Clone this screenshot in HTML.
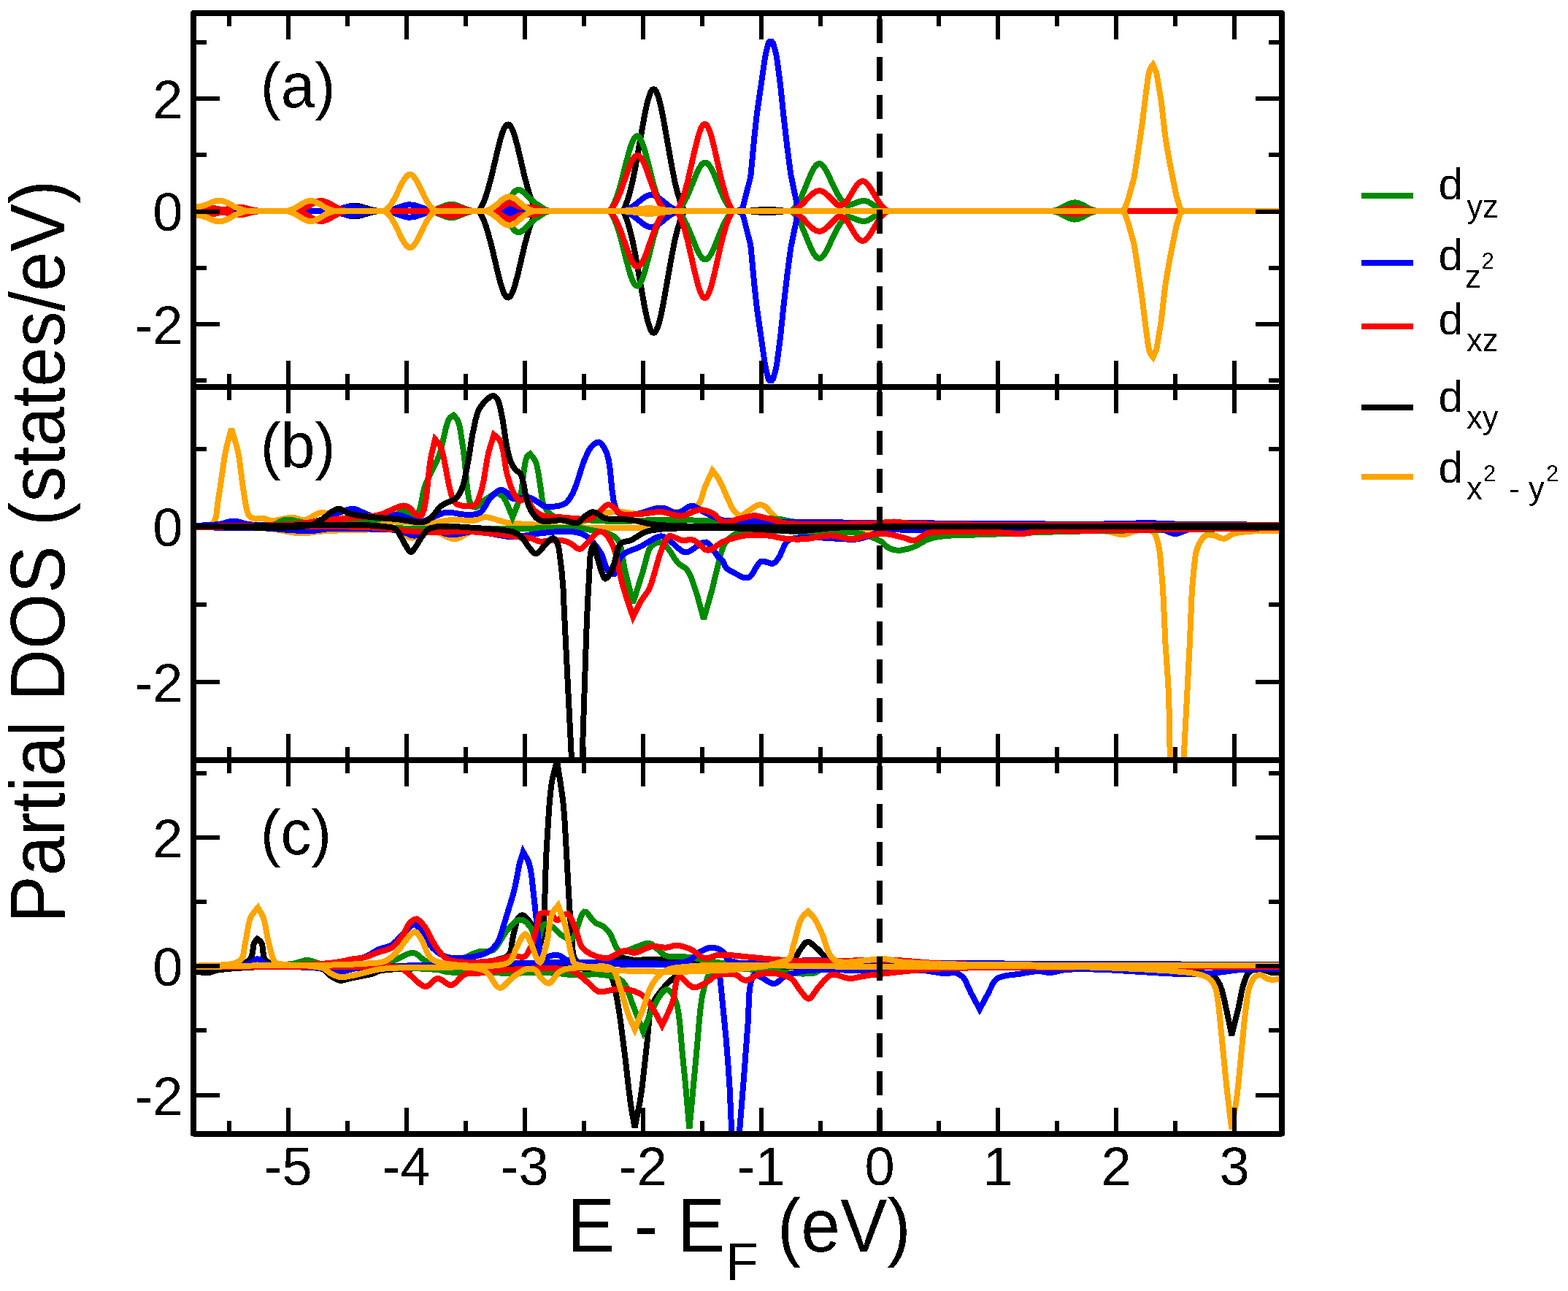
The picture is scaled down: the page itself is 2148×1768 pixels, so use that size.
<!DOCTYPE html><html><head><meta charset="utf-8"><title>Partial DOS</title><style>html,body{margin:0;padding:0;background:#fff;overflow:hidden}svg{display:block}text{font-family:"Liberation Sans",sans-serif;fill:#000}</style></head><body>
<svg width="2148" height="1768" viewBox="0 0 2148 1768">
<rect width="2148" height="1768" fill="#fff"/>
<defs>
<clipPath id="ca"><rect x="265" y="18" width="1491" height="511.5"/></clipPath>
<clipPath id="cb"><rect x="265" y="529.5" width="1491" height="511.5"/></clipPath>
<clipPath id="cc"><rect x="265" y="1041" width="1491" height="511.5"/></clipPath>
<filter id="bin" x="0" y="0" width="100%" height="100%" filterUnits="userSpaceOnUse" color-interpolation-filters="sRGB"><feComponentTransfer><feFuncA type="discrete" tableValues="0 1"/></feComponentTransfer></filter>
</defs>
<g fill="none" stroke-width="8" stroke-linejoin="miter" stroke-miterlimit="3" stroke-linecap="butt" shape-rendering="crispEdges">
<path d="M265 289 L453 289 L462.7 286.9 L477.3 282.7 L482.2 281.8 L485.4 281.7 L488.7 281.8 L493.5 282.7 L508.1 286.9 L517.8 289 L655.6 289 L657.2 287 L658.8 284.4 L662.1 278 L665.3 269.7 L668.5 259.5 L673.4 241.1 L683.1 199.7 L686.4 187.7 L688 182.6 L689.6 178.3 L691.2 174.9 L692.9 172.4 L694.5 170.9 L696.1 170.5 L697.7 171.1 L699.3 172.8 L701 175.5 L702.6 179.1 L704.2 183.6 L705.8 188.8 L709.1 201 L718.8 242.5 L723.7 260.6 L726.9 270.6 L730.1 278.7 L733.4 285 L735 287.5 L736.6 289 L853.3 289 L856.5 282.5 L859.8 273.9 L863 263 L866.3 249.6 L871.1 225.4 L882.5 160.8 L885.7 145 L887.3 138.4 L889 132.7 L890.6 128.2 L892.2 124.8 L893.8 122.8 L895.4 122.1 L897.1 122.8 L898.7 124.8 L900.3 128.2 L901.9 132.7 L903.5 138.4 L905.2 145 L908.4 160.8 L919.8 225.4 L924.6 249.6 L927.9 263 L931.1 273.9 L934.3 282.5 L937.6 289 L1025.1 289 L1026.7 288.7 L1042.9 287.1 L1051 286.7 L1059.1 287.1 L1075.3 288.7 L1077 289 L1756 289" stroke="#000000" clip-path="url(#ca)"/>
<path d="M265 289 L453 289 L462.7 291.1 L477.3 295.3 L482.2 296.2 L485.4 296.3 L488.7 296.2 L493.5 295.3 L508.1 291.1 L517.8 289 L655.6 289 L657.2 291 L658.8 293.6 L662.1 300 L665.3 308.3 L668.5 318.5 L673.4 336.9 L683.1 378.3 L686.4 390.3 L688 395.4 L689.6 399.7 L691.2 403.1 L692.9 405.6 L694.5 407.1 L696.1 407.5 L697.7 406.9 L699.3 405.2 L701 402.5 L702.6 398.9 L704.2 394.4 L705.8 389.2 L709.1 377 L718.8 335.5 L723.7 317.4 L726.9 307.4 L730.1 299.3 L733.4 293 L735 290.5 L736.6 289 L853.3 289 L856.5 295.5 L859.8 304.1 L863 315 L866.3 328.4 L871.1 352.6 L882.5 417.2 L885.7 433 L887.3 439.6 L889 445.3 L890.6 449.8 L892.2 453.2 L893.8 455.2 L895.4 455.9 L897.1 455.2 L898.7 453.2 L900.3 449.8 L901.9 445.3 L903.5 439.6 L905.2 433 L908.4 417.2 L919.8 352.6 L924.6 328.4 L927.9 315 L931.1 304.1 L934.3 295.5 L937.6 289 L1025.1 289 L1026.7 289.3 L1042.9 290.9 L1051 291.3 L1059.1 290.9 L1075.3 289.3 L1077 289 L1756 289" stroke="#000000" clip-path="url(#ca)"/>
<path d="M265 289 L589.1 289 L597.2 286.7 L611.8 280.8 L615.1 280 L618.3 279.7 L621.5 280 L624.8 280.8 L639.4 286.7 L647.5 289 L683.1 289 L684.8 288.6 L686.4 287.5 L689.6 284.7 L691.2 282.8 L694.5 278.2 L701 267.6 L704.2 263.2 L705.8 261.7 L707.4 260.6 L709.1 259.9 L710.7 259.7 L712.3 260 L713.9 260.8 L715.5 261.9 L725.3 271.1 L733.4 278.3 L746.3 286.5 L749.6 288 L752.8 289 L833.9 289 L835.5 288.3 L838.7 283.5 L842 277 L843.6 273 L846.8 263.8 L850.1 252.9 L859.8 214.9 L863 203.4 L864.7 198.5 L866.3 194.2 L867.9 190.8 L869.5 188.3 L871.1 186.8 L872.8 186.3 L874.4 186.8 L876 188.3 L877.6 190.8 L879.2 194.2 L880.9 198.5 L882.5 203.4 L885.7 214.9 L895.4 252.9 L898.7 263.8 L901.9 273 L903.5 277 L906.8 283.5 L910 288.3 L911.7 289 L926.2 289 L927.9 288.6 L931.1 285.5 L932.7 283.6 L936 279 L940.8 270 L944.1 262.7 L953.8 238.6 L957 231.7 L960.3 226.4 L961.9 224.5 L963.5 223.3 L965.1 222.6 L966.8 222.6 L968.4 223.3 L970 224.5 L971.6 226.4 L973.2 228.8 L974.9 231.7 L978.1 238.6 L987.8 262.7 L991.1 270 L994.3 276.3 L997.6 281.5 L1000.8 285.5 L1004 288.6 L1005.7 289 L1083.4 289 L1085.1 287.9 L1088.3 284.7 L1091.6 280.5 L1094.8 275.2 L1099.7 265.2 L1109.4 241.6 L1114.2 231.5 L1117.5 226.9 L1119.1 225.4 L1120.7 224.4 L1122.3 224.1 L1124 224.4 L1125.6 225.4 L1127.2 226.9 L1130.4 231.4 L1133.7 237.3 L1141.8 254.8 L1146.7 264.4 L1149.9 269.9 L1153.1 274.6 L1154.8 276.6 L1158 279.6 L1159.6 280.7 L1161.2 281.4 L1167.7 279.6 L1175.8 276.5 L1179.1 275.5 L1182.3 275.1 L1185.6 275.2 L1188.8 276.1 L1192 277.8 L1200.1 283.4 L1205 286.2 L1209.9 288.2 L1213.1 289 L1441.6 289 L1446.5 287.9 L1451.3 286.1 L1462.7 280.2 L1465.9 278.7 L1469.2 277.8 L1472.4 277.4 L1475.7 277.8 L1478.9 278.7 L1482.1 280.2 L1493.5 286.1 L1498.3 287.9 L1503.2 289 L1756 289" stroke="#008b00" clip-path="url(#ca)"/>
<path d="M265 289 L589.1 289 L597.2 291.3 L611.8 297.2 L615.1 298 L618.3 298.3 L621.5 298 L624.8 297.2 L639.4 291.3 L647.5 289 L683.1 289 L684.8 289.4 L686.4 290.5 L689.6 293.3 L691.2 295.2 L694.5 299.8 L701 310.4 L704.2 314.8 L705.8 316.3 L707.4 317.4 L709.1 318.1 L710.7 318.3 L712.3 318 L713.9 317.2 L715.5 316.1 L725.3 306.9 L733.4 299.7 L746.3 291.5 L749.6 290 L752.8 289 L833.9 289 L835.5 289.7 L838.7 294.5 L842 301 L843.6 305 L846.8 314.2 L850.1 325.1 L859.8 363.1 L863 374.6 L864.7 379.5 L866.3 383.8 L867.9 387.2 L869.5 389.7 L871.1 391.2 L872.8 391.7 L874.4 391.2 L876 389.7 L877.6 387.2 L879.2 383.8 L880.9 379.5 L882.5 374.6 L885.7 363.1 L895.4 325.1 L898.7 314.2 L901.9 305 L903.5 301 L906.8 294.5 L910 289.7 L911.7 289 L926.2 289 L927.9 289.4 L931.1 292.5 L932.7 294.4 L936 299 L940.8 308 L944.1 315.3 L953.8 339.4 L957 346.3 L960.3 351.6 L961.9 353.5 L963.5 354.7 L965.1 355.4 L966.8 355.4 L968.4 354.7 L970 353.5 L971.6 351.6 L973.2 349.2 L974.9 346.3 L978.1 339.4 L987.8 315.3 L991.1 308 L994.3 301.7 L997.6 296.5 L1000.8 292.5 L1004 289.4 L1005.7 289 L1083.4 289 L1085.1 290.1 L1088.3 293.3 L1091.6 297.5 L1094.8 302.8 L1099.7 312.8 L1109.4 336.4 L1114.2 346.5 L1117.5 351.1 L1119.1 352.6 L1120.7 353.6 L1122.3 353.9 L1124 353.6 L1125.6 352.6 L1127.2 351.1 L1130.4 346.6 L1133.7 340.7 L1141.8 323.2 L1146.7 313.6 L1149.9 308.1 L1153.1 303.4 L1154.8 301.4 L1158 298.4 L1159.6 297.3 L1161.2 296.6 L1167.7 298.4 L1175.8 301.5 L1179.1 302.5 L1182.3 302.9 L1185.6 302.8 L1188.8 301.9 L1192 300.2 L1200.1 294.6 L1205 291.8 L1209.9 289.8 L1213.1 289 L1441.6 289 L1446.5 290.1 L1451.3 291.9 L1462.7 297.8 L1465.9 299.3 L1469.2 300.2 L1472.4 300.6 L1475.7 300.2 L1478.9 299.3 L1482.1 297.8 L1493.5 291.9 L1498.3 290.1 L1503.2 289 L1756 289" stroke="#008b00" clip-path="url(#ca)"/>
<path d="M265 289 L449.8 289 L459.5 287.4 L474.1 284 L478.9 283.3 L482.2 283.2 L485.4 283.3 L490.3 284 L504.9 287.4 L514.6 289 L527.5 289 L537.3 286.9 L553.5 281.5 L558.3 280.5 L561.6 280.4 L564.8 280.6 L569.7 281.6 L584.3 286.6 L594 289 L686.4 289 L692.9 287.7 L702.6 285.2 L707.4 284.8 L712.3 285.2 L722 287.7 L728.5 289 L853.3 289 L856.5 288.1 L859.8 286.8 L864.7 284.2 L869.5 280.8 L880.9 271.6 L884.1 269.4 L887.3 267.9 L889 267.4 L892.2 267 L895.4 267.4 L897.1 268 L900.3 269.6 L905.2 273 L914.9 281 L919.8 284.4 L923 286.2 L926.2 287.6 L931.1 289 L1010.5 289 L1017 285.4 L1018.6 280.6 L1028.3 241.9 L1033.2 189.7 L1036.4 159.8 L1038.1 147.4 L1047.8 80.2 L1049.4 71.8 L1052.7 58.6 L1054.3 57.2 L1057.5 57.2 L1059.1 59 L1062.4 71 L1064 78.2 L1068.9 115.2 L1073.7 161.1 L1078.6 203.4 L1083.4 239.5 L1091.6 279 L1093.2 285.4 L1098 289 L1756 289" stroke="#0000ff" clip-path="url(#ca)"/>
<path d="M265 289 L449.8 289 L459.5 290.6 L474.1 294 L478.9 294.7 L482.2 294.8 L485.4 294.7 L490.3 294 L504.9 290.6 L514.6 289 L527.5 289 L537.3 291.1 L553.5 296.5 L558.3 297.5 L561.6 297.6 L564.8 297.4 L569.7 296.4 L584.3 291.4 L594 289 L686.4 289 L692.9 290.3 L702.6 292.8 L707.4 293.2 L712.3 292.8 L722 290.3 L728.5 289 L853.3 289 L856.5 289.9 L859.8 291.2 L864.7 293.8 L869.5 297.2 L880.9 306.4 L884.1 308.6 L887.3 310.1 L889 310.6 L892.2 311 L895.4 310.6 L897.1 310 L900.3 308.4 L905.2 305 L914.9 297 L919.8 293.6 L923 291.8 L926.2 290.4 L931.1 289 L1010.5 289 L1017 292.6 L1018.6 297.4 L1028.3 336.1 L1033.2 388.3 L1036.4 418.2 L1038.1 430.6 L1047.8 497.8 L1049.4 506.2 L1052.7 519.4 L1054.3 520.8 L1057.5 520.8 L1059.1 519 L1062.4 507 L1064 499.8 L1068.9 462.8 L1073.7 416.9 L1078.6 374.6 L1083.4 338.5 L1091.6 299 L1093.2 292.6 L1098 289 L1756 289" stroke="#0000ff" clip-path="url(#ca)"/>
<path d="M265 289 L266.6 289 L273.1 287.6 L281.2 285.3 L286.1 284.4 L290.9 284.6 L300.6 286.6 L305.5 286.9 L310.4 286.5 L321.7 283.9 L326.6 283.6 L333.1 284.2 L347.6 287.7 L355.8 289 L406 289 L410.9 287.7 L415.7 285.8 L420.6 283.4 L428.7 278.7 L433.5 276.4 L436.8 275.4 L440 275.1 L443.3 275.4 L446.5 276.4 L451.4 278.7 L459.5 283.4 L464.3 285.8 L469.2 287.7 L474.1 289 L589.1 289 L597.2 287.3 L611.8 282.8 L615.1 282.3 L618.3 282 L621.5 282.3 L624.8 282.8 L639.4 287.3 L647.5 289 L676.7 289 L683.1 286.1 L692.9 279.8 L696.1 278.5 L697.7 278.2 L699.3 278.2 L702.6 279.1 L710.7 282.8 L713.9 283.9 L718.8 284.4 L722 284.2 L725.3 283.7 L730.1 283.9 L733.4 284.6 L741.5 287.3 L748 289 L833.9 289 L835.5 288.2 L838.7 284.6 L842 279.9 L843.6 277 L846.8 270.3 L850.1 262.3 L859.8 234.7 L864.7 222.6 L867.9 216.8 L869.5 214.8 L871.1 213.5 L872.8 212.9 L874.4 213.1 L876 214 L877.6 215.5 L879.2 217.8 L880.9 220.7 L882.5 224 L885.7 232.1 L893.8 255.3 L898.7 268 L903.5 278.2 L906.8 283.3 L911.7 289 L926.2 289 L927.9 287.6 L931.1 281.8 L934.3 274.3 L936 269.7 L939.2 259.1 L942.4 246.6 L952.2 203.5 L957 184.7 L958.7 179.8 L960.3 175.8 L961.9 172.8 L963.5 170.9 L965.1 170.1 L966.8 170.4 L968.4 171.9 L970 174.5 L971.6 178.1 L973.2 182.6 L974.9 188 L978.1 200.7 L987.8 243.9 L992.7 262.5 L995.9 272.5 L997.6 276.8 L1000.8 283.7 L1004 289 L1083.4 289 L1088.3 287.2 L1091.6 285.4 L1094.8 283.1 L1099.7 278.8 L1109.4 268.7 L1114.2 264.4 L1117.5 262.4 L1119.1 261.7 L1122.3 261.2 L1125.6 261.7 L1127.2 262.4 L1130.4 264.4 L1135.3 268.7 L1146.7 280.3 L1148.3 281 L1149.9 281.2 L1151.5 281.2 L1153.1 280.8 L1154.8 280.1 L1156.4 279 L1159.6 276 L1161.2 274 L1171 257.5 L1174.2 252.9 L1175.8 251.1 L1177.4 249.7 L1179.1 248.7 L1180.7 248.1 L1182.3 248.1 L1183.9 248.5 L1185.6 249.4 L1188.8 252.5 L1192 257 L1201.8 273.4 L1206.6 280.5 L1211.5 285.6 L1216.3 289 L1444.9 289 L1465.9 285.6 L1472.4 285.1 L1478.9 285.6 L1500 289 L1756 289" stroke="#ff0000" clip-path="url(#ca)"/>
<path d="M265 289 L266.6 289 L273.1 290.4 L281.2 292.7 L286.1 293.6 L290.9 293.4 L300.6 291.4 L305.5 291.1 L310.4 291.5 L321.7 294.1 L326.6 294.4 L333.1 293.8 L347.6 290.3 L355.8 289 L406 289 L410.9 290.3 L415.7 292.2 L420.6 294.6 L428.7 299.3 L433.5 301.6 L436.8 302.6 L440 302.9 L443.3 302.6 L446.5 301.6 L451.4 299.3 L459.5 294.6 L464.3 292.2 L469.2 290.3 L474.1 289 L589.1 289 L597.2 290.7 L611.8 295.2 L615.1 295.7 L618.3 296 L621.5 295.7 L624.8 295.2 L639.4 290.7 L647.5 289 L676.7 289 L683.1 291.9 L692.9 298.2 L696.1 299.5 L697.7 299.8 L699.3 299.8 L702.6 298.9 L710.7 295.2 L713.9 294.1 L718.8 293.6 L722 293.8 L725.3 294.3 L730.1 294.1 L733.4 293.4 L741.5 290.7 L748 289 L833.9 289 L835.5 289.8 L838.7 293.4 L842 298.1 L843.6 301 L846.8 307.7 L850.1 315.7 L859.8 343.3 L864.7 355.4 L867.9 361.2 L869.5 363.2 L871.1 364.5 L872.8 365.1 L874.4 364.9 L876 364 L877.6 362.5 L879.2 360.2 L880.9 357.3 L882.5 354 L885.7 345.9 L893.8 322.7 L898.7 310 L903.5 299.8 L906.8 294.7 L911.7 289 L926.2 289 L927.9 290.4 L931.1 296.2 L934.3 303.7 L936 308.3 L939.2 318.9 L942.4 331.4 L952.2 374.5 L957 393.3 L958.7 398.2 L960.3 402.2 L961.9 405.2 L963.5 407.1 L965.1 407.9 L966.8 407.6 L968.4 406.1 L970 403.5 L971.6 399.9 L973.2 395.4 L974.9 390 L978.1 377.3 L987.8 334.1 L992.7 315.5 L995.9 305.5 L997.6 301.2 L1000.8 294.3 L1004 289 L1083.4 289 L1088.3 290.8 L1091.6 292.6 L1094.8 294.9 L1099.7 299.2 L1109.4 309.3 L1114.2 313.6 L1117.5 315.6 L1119.1 316.3 L1122.3 316.8 L1125.6 316.3 L1127.2 315.6 L1130.4 313.6 L1135.3 309.3 L1146.7 297.7 L1148.3 297 L1149.9 296.8 L1151.5 296.8 L1153.1 297.2 L1154.8 297.9 L1156.4 299 L1159.6 302 L1161.2 304 L1171 320.5 L1174.2 325.1 L1175.8 326.9 L1177.4 328.3 L1179.1 329.3 L1180.7 329.9 L1182.3 329.9 L1183.9 329.5 L1185.6 328.6 L1188.8 325.5 L1192 321 L1201.8 304.6 L1206.6 297.5 L1211.5 292.4 L1216.3 289 L1444.9 289 L1465.9 292.4 L1472.4 292.9 L1478.9 292.4 L1500 289 L1756 289" stroke="#ff0000" clip-path="url(#ca)"/>
<path d="M265 283.2 L271.5 283.1 L276.3 282.4 L282.8 280.3 L290.9 276.8 L294.2 275.6 L297.4 274.9 L300.6 274.7 L303.9 275.1 L308.8 276.5 L312 278 L321.7 283.2 L326.6 285.5 L331.4 287.3 L337.9 289 L393 289 L397.9 287.6 L402.8 285.6 L407.6 282.9 L415.7 277.9 L419 276.3 L422.2 275.2 L425.4 274.9 L428.7 275.2 L431.9 276.3 L435.2 277.9 L443.3 282.9 L448.1 285.6 L453 287.6 L457.9 289 L525.9 289 L527.5 288.5 L530.8 285.9 L534 282.2 L535.7 280 L540.5 271.9 L550.2 251.8 L553.5 245.9 L556.7 241.6 L558.3 240.1 L560 239.2 L561.6 238.9 L563.2 239.2 L564.8 240.1 L566.4 241.6 L569.7 245.9 L572.9 251.8 L582.7 271.9 L587.5 280 L589.1 282.2 L592.4 285.9 L595.6 288.5 L597.2 289 L665.3 289 L670.2 287.1 L675 284.3 L679.9 280.6 L688 273.6 L691.2 271.3 L694.5 269.8 L697.7 269.3 L701 269.8 L704.2 271.3 L707.4 273.6 L715.5 280.6 L720.4 284.3 L725.3 287.1 L730.1 289 L854.9 289 L856.5 288.6 L864.7 287.8 L879.2 285.8 L889 285.1 L898.7 285.8 L913.3 287.8 L921.4 288.6 L923 289 L1535.6 289 L1540.5 286.7 L1545.3 273.5 L1553.5 243.8 L1558.3 213.2 L1563.2 179.8 L1564.8 168.2 L1569.7 128.3 L1572.9 104.8 L1574.5 97.3 L1577.8 90.8 L1579.4 88.8 L1584.2 99.2 L1590.7 138.2 L1595.6 181.2 L1597.2 192.8 L1602.1 221.2 L1611.8 269.6 L1616.7 285 L1618.3 287.7 L1623.1 289 L1756 289" stroke="#ffa500" clip-path="url(#ca)"/>
<path d="M265 294.8 L271.5 294.9 L276.3 295.6 L282.8 297.7 L290.9 301.2 L294.2 302.4 L297.4 303.1 L300.6 303.3 L303.9 302.9 L308.8 301.5 L312 300 L321.7 294.8 L326.6 292.5 L331.4 290.7 L337.9 289 L393 289 L397.9 290.4 L402.8 292.4 L407.6 295.1 L415.7 300.1 L419 301.7 L422.2 302.8 L425.4 303.1 L428.7 302.8 L431.9 301.7 L435.2 300.1 L443.3 295.1 L448.1 292.4 L453 290.4 L457.9 289 L525.9 289 L527.5 289.5 L530.8 292.1 L534 295.8 L535.7 298 L540.5 306.1 L550.2 326.2 L553.5 332.1 L556.7 336.4 L558.3 337.9 L560 338.8 L561.6 339.1 L563.2 338.8 L564.8 337.9 L566.4 336.4 L569.7 332.1 L572.9 326.2 L582.7 306.1 L587.5 298 L589.1 295.8 L592.4 292.1 L595.6 289.5 L597.2 289 L665.3 289 L670.2 290.9 L675 293.7 L679.9 297.4 L688 304.4 L691.2 306.7 L694.5 308.2 L697.7 308.7 L701 308.2 L704.2 306.7 L707.4 304.4 L715.5 297.4 L720.4 293.7 L725.3 290.9 L730.1 289 L854.9 289 L856.5 289.4 L864.7 290.2 L879.2 292.2 L889 292.9 L898.7 292.2 L913.3 290.2 L921.4 289.4 L923 289 L1535.6 289 L1540.5 291.3 L1545.3 304.5 L1553.5 334.2 L1558.3 364.8 L1563.2 398.2 L1564.8 409.8 L1569.7 449.7 L1572.9 473.2 L1574.5 480.7 L1577.8 487.2 L1579.4 489.2 L1584.2 478.8 L1590.7 439.8 L1595.6 396.8 L1597.2 385.2 L1602.1 356.8 L1611.8 308.4 L1616.7 293 L1618.3 290.3 L1623.1 289 L1756 289" stroke="#ffa500" clip-path="url(#ca)"/>
<path d="M265 721 L269.7 720.5 L279.5 720.3 L284.1 719.8 L288.3 718.7 L291.6 716.6 L294.2 712.9 L295.8 708.1 L296.8 702.5 L298.1 689.8 L299 683.3 L300.7 673.6 L307.2 628.7 L308.9 619 L311.5 607.5 L316.9 587 L323.3 607.7 L326.1 619 L327.6 627 L332.2 662.8 L336.5 690.8 L337.7 696.7 L339.1 701.7 L340.9 705.5 L343.1 707.9 L345.6 709.5 L348.3 710.4 L350.8 710.6 L356.5 709.9 L359.4 709.8 L362 710.2 L369.9 712.5 L373 712.9 L377.2 712.7 L397 708.8 L401.3 708.6 L404 709 L411.1 711.6 L413.5 712.2 L416.1 712.3 L419.9 711.3 L424 709.4 L432.6 704.5 L436.8 702.6 L440.8 701.8 L443.9 702.1 L446.9 702.9 L455.8 707 L459.3 708 L464.9 709 L477.6 710.4 L529.1 713.9 L562.2 715.5 L577.3 715.9 L589.9 715.7 L595.8 715.3 L615 712.4 L619.8 712 L624.9 712 L640.6 712.9 L645.4 713 L649.8 712.7 L652.5 712.1 L659.5 709.3 L662 708.5 L664.7 708.2 L669 708.6 L673.7 709.7 L689.3 714.5 L694.7 715.7 L701.1 716.6 L714.8 717.6 L736 718.7 L759.1 721.2 L766.9 721.7 L774.6 721.8 L782 721 L789.2 719.1 L796.2 716.1 L810 709.1 L816.6 706 L823 703.8 L832.5 702 L841.6 701.2 L850.6 701.1 L855.3 701.4 L869.4 703.6 L873.9 704 L878.3 703.8 L882.1 702.9 L885.8 701.3 L892.9 697.7 L896.6 696.3 L900.4 695.5 L904.8 695.7 L909.4 696.8 L918.8 699.8 L923.5 700.9 L928.1 701.1 L932.9 700.6 L938 699.6 L943.1 698.3 L947.9 696.5 L952.2 694.2 L955.8 691.4 L958.4 688.1 L960.4 684 L961.9 679.5 L964.5 670.3 L966 666 L976 644.4 L982.5 652.8 L985.3 657.3 L990 667 L996.1 681.3 L1002.9 695.5 L1004.4 698 L1008 702.3 L1010.2 704.3 L1012.4 705.7 L1014.7 706.3 L1017 705.7 L1024.5 700.1 L1034.6 693.5 L1037 692.2 L1039.3 691.5 L1043.1 691.4 L1046.7 692.7 L1048.5 693.9 L1050.4 695.7 L1056 702 L1061.7 707.8 L1063.7 709.6 L1066.4 711.2 L1070.1 712.8 L1074.2 714.1 L1079 715.2 L1084.7 716.2 L1100 718 L1161.4 720.9 L1257.3 722 L1376.2 721.8 L1637.1 720.2 L1756 720" stroke="#ffa500" clip-path="url(#cb)"/>
<path d="M265 721.5 L320.1 721.8 L357 723 L370 724 L377 724.9 L398.1 728.9 L404.9 729.9 L411.4 730.4 L416.5 730.3 L421.5 729.9 L435.5 728 L450.2 726.9 L467.4 726.3 L504 725.5 L521.9 724.8 L530 725 L539.3 726 L545.1 727.1 L548 728 L550.8 729.3 L558.7 734.8 L561.5 736.1 L564.4 736.7 L568.3 736 L572.4 734.1 L581 728.9 L585.5 726.9 L590 726 L595.3 726.9 L600.7 729.1 L612 735.1 L617.5 737.4 L622.8 738.2 L627.4 737.4 L631.7 735.5 L640.3 730.2 L644.9 727.8 L650 726 L656.9 724.8 L663.9 724.1 L671.3 724 L689 724.1 L778.6 723.1 L942.8 722.9 L1177.1 723.7 L1367.4 725.1 L1442.2 725.8 L1509.2 727 L1516.6 727.7 L1520.5 728.4 L1531.7 731.3 L1535.3 732 L1538.8 732.1 L1541.9 731.6 L1544.8 730.7 L1553.5 727.3 L1556.6 726.6 L1564.4 725.8 L1568.5 725.7 L1572.4 725.9 L1576 726.5 L1578.8 727.7 L1580.8 729.3 L1582.2 731.4 L1584.4 736.7 L1587 746.4 L1588.4 754.3 L1589.4 763.2 L1593.1 806.7 L1596.5 881.9 L1599.6 925.8 L1600.9 948.4 L1601.7 976.7 L1602.5 1023.1 L1604.1 1072.1 L1612 1260 L1620.1 1070.5 L1622.2 1027.1 L1629.8 881.9 L1632.3 820.4 L1633.1 806.1 L1635.8 776.3 L1637.6 761.2 L1639 754.6 L1640.9 748.8 L1642.4 745.4 L1645.9 739.2 L1647.8 736.7 L1649.9 734.7 L1652 733.2 L1654.6 732.4 L1657.4 732.3 L1663.1 733.2 L1665.7 734 L1671.1 736.5 L1673.8 737.4 L1676.4 737.7 L1679 737 L1681.5 735.7 L1686.8 732.3 L1689.7 731 L1692.9 730.1 L1699.9 728.9 L1718.4 727.3 L1756 726.6" stroke="#ffa500" clip-path="url(#cb)"/>
<path d="M265 721 L283.4 721.1 L322.5 721.9 L341 722 L357.2 721.5 L370 720 L374.6 718.8 L378.3 717.2 L384.7 713.8 L387.9 712.5 L391.5 711.7 L395.8 711.6 L400.1 712.2 L414.3 715.4 L420 716 L431.3 716.5 L444.7 716.6 L459.2 716.4 L473.9 715.9 L487.8 715.1 L500 714 L507.8 713 L522.4 710.4 L528.9 709 L540 706 L542.9 704.8 L549.9 701.2 L552.4 700.7 L555.3 701.1 L564.9 705.1 L567.8 705.8 L570.4 705.2 L573.4 701.7 L575.5 695.9 L577.1 688.5 L580.2 672.2 L582.4 664.8 L585.3 657.9 L598.9 630.2 L601.8 622.9 L604.4 614.4 L610.9 586.2 L613 578.6 L615.3 573.4 L617.3 571.2 L621.3 568.5 L625.4 573.2 L627.3 576.4 L628.9 581.1 L630.3 587 L634.8 616.9 L636.4 629.2 L639.1 659.2 L640.7 673.4 L642.7 684.9 L645.3 691.8 L648.1 694.3 L651.3 694.7 L653.2 694 L655.4 692.5 L662.3 686.1 L672.5 679 L675.1 677.5 L677.7 676.5 L680 676 L683.1 676.3 L685.9 677.6 L688.7 679.8 L691.1 682.9 L693.4 687.2 L695.6 692.3 L702.2 708.2 L709.4 690 L712.7 679.8 L714.5 671.1 L718.4 639.9 L719.9 631.5 L721.7 625.9 L723.9 623.4 L726.2 621.7 L730.8 627.2 L732.3 629.3 L733.6 631.8 L735.1 636.1 L737.3 646.8 L740.8 669 L742.8 684.1 L743.9 688.7 L745.5 692.8 L749.2 698.9 L751.4 701.6 L753.9 704 L756.8 706.2 L760 708 L765.3 709.8 L771.5 710.9 L778.3 711.4 L800 712 L824.6 713.4 L850 714 L858.1 713.9 L890.7 712.2 L900 712 L914.9 712 L984.2 713 L1000 713 L1011.7 712.6 L1044.6 710.7 L1054.6 710.4 L1064 710.6 L1070.1 711.2 L1085 714.1 L1091.5 715.1 L1100 716 L1162.2 718.4 L1258.3 719.4 L1377.1 719.5 L1637.2 718.9 L1756 719" stroke="#008b00" clip-path="url(#cb)"/>
<path d="M265 722 L645.7 724 L700 724 L720.9 723.8 L772.3 722.6 L785.1 722.7 L795.3 723.2 L799 723.7 L809.8 726.1 L825.5 728.6 L829.4 729.5 L832.9 730.7 L840.5 734.2 L842.7 735.7 L844.8 737.6 L846.7 739.9 L849.2 744.9 L851 751.2 L852.3 758.5 L854.7 773.9 L856.2 781.3 L867.2 825.6 L881.1 781.3 L887.6 756.8 L889.6 751.8 L892.1 748.1 L894.6 745.9 L897.4 744.2 L900.4 743 L903.3 742.5 L906 742.6 L908 743.4 L909.9 744.9 L911.8 746.8 L918.9 756.2 L924.2 764.9 L928.1 770.2 L930.3 772.2 L937.5 777.1 L939.8 779 L941.9 781.3 L944.2 785 L946.2 789.2 L948 793.9 L955 815.1 L964 848 L975.1 809 L986.9 760.4 L989 753.6 L991.2 747.8 L993.7 743.3 L995.5 740.9 L999.9 736.6 L1004.4 733.2 L1008.7 730.6 L1011.4 729.5 L1014.7 728.5 L1024.5 727.2 L1037.6 726.7 L1052.9 726.8 L1100 728 L1152.6 728.4 L1163.7 728.9 L1172.5 729.7 L1178.2 730.7 L1182.7 731.9 L1193.5 735.5 L1199.9 737.9 L1205.8 740.8 L1208.1 742.3 L1214 747.8 L1216 749.4 L1218.1 750.7 L1223 752.6 L1225.5 753.2 L1230.4 753.8 L1233.6 753.7 L1236.8 753.2 L1244.7 751.4 L1249.7 749.8 L1255.2 747.4 L1267.6 740.3 L1270.8 738.9 L1276.5 737 L1285.6 735.1 L1297.8 733.8 L1308.2 733.2 L1351 732.1 L1401.8 729.9 L1462 727.8 L1756 723" stroke="#008b00" clip-path="url(#cb)"/>
<path d="M265 720 L289.1 719 L300 718 L303.7 717.3 L313.6 714.4 L316.7 713.8 L320 713.5 L323.2 713.8 L326.3 714.4 L336 717.3 L340 718 L348.3 718.8 L358.1 719.3 L379.7 719.8 L390.3 719.5 L400 719 L407.2 718.3 L420.9 716.4 L427.5 715.1 L440 712 L445.4 710.2 L450.8 708.1 L465.7 701.6 L475.9 698.1 L481.2 696.9 L484 696.9 L486.6 697.4 L489.3 698.2 L497.3 701.9 L507.2 706 L512.2 707.7 L515 708.2 L519.4 708.2 L524.2 707.6 L534.6 705.8 L539.9 705.2 L545 705.2 L550.1 706.2 L555.2 708 L565.3 712.1 L570.2 713.7 L574.9 714.2 L578.9 713.8 L582.8 712.7 L586.6 711.3 L593.9 708 L607.2 702.7 L609.6 702 L612.3 701.5 L615.8 701.5 L619.4 702 L631 704.2 L634.8 704.5 L646.6 704.7 L650.4 704.4 L654 703.6 L657.3 702.2 L660.3 699.7 L662.9 696.3 L669.7 684.5 L672.2 681.3 L676.7 676.7 L681.4 672.8 L683.6 671.5 L685.7 670.8 L688.3 671 L690.8 672.2 L693.2 673.8 L694.9 675.4 L698.1 679.5 L700 681.5 L702.2 682.8 L705.3 683.3 L708.9 683 L716.8 681.4 L720.9 681 L724.6 681.3 L728.4 682.6 L732.2 684.7 L742.9 691.8 L745.6 693.2 L748.3 694 L751.1 694.2 L757.7 693.9 L766 692.6 L769.9 691.5 L773.2 690 L775.5 688.4 L777.5 686.5 L781 681.9 L784.3 676.2 L787.2 669.8 L790.1 661.9 L798.3 636 L800.9 629.2 L805.3 619.4 L808.3 614.2 L812.3 609.6 L814.9 607.4 L817.5 605.9 L820 605.6 L822 606.5 L824 608.2 L826 610.7 L827.9 613.8 L831.3 620.9 L833.9 630.4 L835.7 643 L838.5 671.3 L840.2 683.7 L842.4 692.8 L845.1 699.2 L846.6 701.7 L848.4 703.7 L850.6 705.2 L853.5 706.1 L856.9 706.3 L860.6 705.9 L872.8 703.8 L878.1 702.6 L895.2 697.2 L900.8 695.9 L906 695.5 L910 696.1 L913.8 697.5 L921.1 701 L924.6 702.2 L928.1 702.5 L931.4 701.6 L934.7 699.7 L941.1 695.2 L944.3 693.5 L947.5 692.8 L950.7 693.3 L953.9 694.6 L963.5 700.7 L966.8 702.5 L978.2 707.9 L985.7 711 L989 712.1 L994 713.1 L1010 714 L1039.2 714.5 L1247.8 716.3 L1431.5 717.5 L1505.2 717.6 L1550 717 L1569.9 715.5 L1575.9 715.8 L1590 717 L1608.4 717.5 L1756 719" stroke="#0000ff" clip-path="url(#cb)"/>
<path d="M265 722 L320 723 L348.2 723 L362 723.3 L376.3 724.3 L397.4 726.1 L409.3 726.7 L419.5 726.9 L433 726.5 L436 726.2 L443.8 724.7 L452.8 724.1 L467.1 724.1 L526 724.7 L538.6 725.6 L547.1 726.9 L552.9 728.5 L561.4 732.3 L564.4 733.3 L567.4 733.7 L570.9 733.3 L574.6 732.2 L582.1 729 L586 727.7 L590 727 L594.7 727.2 L599.6 728.1 L609.7 730.7 L614.8 731.7 L619.8 732.2 L624.7 732 L644.5 728.3 L650 728 L658.2 728.5 L667.3 729.9 L686.3 733.4 L695.4 734.8 L703.8 735.3 L709.6 735 L715 734.4 L730.5 731.5 L751.6 729.1 L768.1 727.8 L775.6 727.6 L782.2 727.9 L789.3 728.9 L792.4 729.6 L798.1 731.4 L803.2 734 L807.6 737.6 L812.1 742.4 L816.9 748.3 L821.6 754.9 L823.6 758.3 L825.4 762.1 L829.5 775 L831.1 778.6 L832.9 781.4 L835.1 783.5 L837.5 785.2 L839.9 786.1 L842.1 786 L843.8 784.1 L844.9 780.4 L846.9 770.6 L848.4 765.8 L850.6 762 L854.1 758.9 L858.4 756.4 L863.2 754.2 L873.5 750.3 L878.3 748.1 L897.5 736.7 L902 734.9 L906 734.3 L908.6 734.8 L910.9 735.8 L922.8 744.9 L929 750.8 L932.3 753.4 L935.7 755.5 L939.2 756.4 L943.6 755.5 L948.3 752.8 L958.1 745.6 L962.7 743.1 L966.8 742.6 L970.1 744.2 L973.2 747.2 L976 751.1 L981.1 759.1 L983.4 762 L988 766 L990 768 L991.3 770.3 L993.4 775.5 L994.9 777.8 L997 779.6 L999.4 781.2 L1015.8 789.8 L1018.5 790.9 L1020.8 791.4 L1024 791.4 L1027 790.2 L1029.3 787.8 L1031.8 784 L1037 775 L1039.5 771.4 L1041.8 769.2 L1044.8 768.7 L1048 769.2 L1056.4 771.7 L1059 771.7 L1061.1 770.7 L1062.9 769 L1066.4 764.3 L1068.4 761 L1074.3 747.6 L1076.5 743.6 L1078.8 740.8 L1081 739.2 L1083.3 738.3 L1088.6 737.1 L1095.6 736.2 L1113.3 735.9 L1122.5 736.2 L1156.9 738.4 L1167.2 738.8 L1175 738.4 L1180.4 737.2 L1190.9 733.4 L1203 728.5 L1207.4 727 L1212 726 L1217.4 725.3 L1222.6 725.2 L1250 726 L1291.9 725.4 L1424.8 723.1 L1495 722.4 L1553.5 722.8 L1590 725 L1594.8 726 L1598.5 727.3 L1604.1 729.8 L1606.8 730.7 L1609.8 731 L1612.9 730.7 L1615.8 729.8 L1621.9 727.2 L1625.6 726 L1630 725 L1644.7 723.6 L1663.9 723 L1756 723" stroke="#0000ff" clip-path="url(#cb)"/>
<path d="M265 721 L359.9 719.6 L381.3 719 L400 718 L409.8 717.2 L450 712 L493 708.7 L513.4 706.4 L520 705 L525.3 703.2 L543 695.3 L548.2 693.4 L552.4 692.5 L555.3 692.7 L557.5 693.4 L559.9 694.7 L561.9 696.2 L568 703 L570 704.9 L571.9 706 L575 706.5 L577.9 705.2 L580.8 698.7 L583.1 686.8 L585 671.8 L588.2 640.6 L589.9 628.8 L592 618.6 L596 601.4 L601.5 607.8 L603.3 610.9 L605.9 618.5 L608.3 628.9 L614.9 664 L618.5 678.8 L620.2 683.7 L621.3 685.8 L622.9 688 L624.8 689.7 L627.3 691 L630.3 691.9 L634.1 692.8 L638.4 693.3 L642.7 693.4 L646.6 693 L649.8 691.8 L652 690 L653.8 687.6 L655.2 684.6 L658.8 673.8 L660.8 666.3 L662.7 657.3 L667.5 628 L669.2 619.9 L671.7 611 L676.7 595.4 L682.3 600.4 L684.1 602.4 L685.7 604.9 L687.7 610.5 L689.3 617.7 L693.1 642.5 L694.7 649.8 L699.6 665.7 L703.3 674.8 L705.2 678.3 L708.8 683.2 L710.7 684.9 L712.7 685.8 L715.1 685.1 L717.7 683.4 L720.2 682.8 L722.1 684.1 L723.8 686.4 L729.4 695.9 L731.5 698.4 L733.5 700.2 L737.8 703.3 L740.1 704.6 L745.3 706.7 L749.4 707.6 L753.9 708.1 L773 708.6 L785.4 710 L791.4 710.4 L800.9 710.8 L804 710.7 L807 710.3 L809.8 709.5 L812.4 708.2 L814.8 706.5 L828.3 693.9 L830.6 692 L832.9 691.1 L835.2 691.4 L837.5 692.5 L839.9 694.1 L842.1 695.7 L844.1 697.6 L848 702.1 L850.6 703.8 L854.2 704.7 L858.5 705 L863.3 704.9 L878.3 703.8 L882.9 703.4 L896.8 701.5 L901.4 701.1 L906 701.1 L910.6 701.7 L924.5 705.5 L929.1 706.4 L933.6 706.6 L937.9 705.8 L942.1 704.2 L950.5 700.4 L954.5 698.9 L958.5 698.3 L961.9 698.4 L965.4 699 L968.7 699.9 L972 701 L977.9 703.8 L980.1 705.5 L985.6 712.1 L987.6 713.9 L990 715 L993.5 715.4 L997.6 714.8 L1001.9 713.8 L1010.7 711 L1024.1 707.7 L1030.1 706.5 L1033.2 706.3 L1036.3 706.5 L1042.3 707.6 L1055.4 711 L1066.5 714.5 L1071 715.6 L1076.3 716.5 L1092.4 717.7 L1113.8 718.2 L1137.9 718.1 L1183.4 717.1 L1204.8 716.2 L1216.7 714.9 L1224.3 714.5 L1228.2 714.7 L1243.8 716.6 L1250 717 L1297.3 718.2 L1371.3 718.9 L1756 719.5" stroke="#ff0000" clip-path="url(#cb)"/>
<path d="M265 722 L393.4 721.2 L434.6 721.1 L470.9 721.3 L500 722 L510.4 722.6 L569.6 728 L582.9 728.9 L597.9 729.2 L631.6 727.9 L640 728 L648.6 728.4 L675.2 730.8 L693.6 733 L708.4 735.3 L724 736.6 L726.9 737.1 L729.8 738 L738 741.2 L740.7 741.8 L743.4 741.8 L751.6 740.2 L754.5 739.9 L764 739.8 L770.3 740.3 L773 740.8 L776.3 741.8 L779.2 743 L782.2 744.5 L784.5 746 L789.4 750 L791.8 751.4 L794.1 751.9 L796.4 751.2 L798.6 749.6 L807.5 740.4 L814.6 732.3 L816.9 730.1 L819 728.8 L822.3 728.1 L825.5 728.8 L828 730.2 L830.5 732.5 L832.9 735.3 L836.2 740.4 L837.8 743.4 L840.8 750.1 L842.1 753.7 L843.7 759.1 L845.1 765.2 L848.7 784.3 L850 790 L852.9 801.1 L857.8 817.1 L867.2 844.9 L874.5 829.9 L878.3 822.8 L880.1 820 L885.7 812.5 L887.6 809.6 L889.4 806.2 L892.3 798.9 L895.1 790 L903.2 761.2 L906 753.6 L911 741.6 L912.7 738.3 L914.7 735.8 L917 734.3 L919.4 734.1 L922 734.8 L930.7 739 L933.6 739.8 L936.3 740 L944.7 739.2 L947.4 739.3 L950.2 739.8 L953.5 741.5 L956.7 744.2 L963.1 750.3 L966.3 752.6 L969.6 753.6 L972.9 753.1 L976.2 751.5 L986 744.4 L989 742.6 L997 739.3 L1009.7 735.6 L1017 734 L1025.6 733 L1030.8 732.7 L1041.4 732.8 L1051.7 733.4 L1056 733.9 L1072.2 737.2 L1076.3 737.8 L1084.3 738.4 L1092.4 738.6 L1101 738.4 L1106.8 737.8 L1125.7 734.5 L1131.9 733.7 L1138 733.4 L1143.4 733.9 L1148.8 734.9 L1159.2 737.3 L1164.2 738.2 L1168.8 738.4 L1172.1 738 L1175.2 737.2 L1184.1 734.2 L1191.2 732.7 L1203.6 731.1 L1212 731 L1216.2 731.4 L1224.7 733 L1239.4 736.8 L1247.2 739.6 L1249.7 740.1 L1252.3 740.1 L1255.3 739.3 L1258.4 737.7 L1267.6 731.6 L1270.8 730.3 L1276.4 729.1 L1289.3 728.4 L1311.2 728.1 L1351.9 728.7 L1370.3 729.3 L1389 730.7 L1394.7 731 L1400.3 730.9 L1404.6 730.5 L1420.2 727.7 L1425 727.2 L1434.6 726.7 L1445.3 726.5 L1500 726.6 L1756 723" stroke="#ff0000" clip-path="url(#cb)"/>
<path d="M265 721 L292.5 721.2 L351.6 722.6 L379.1 722.9 L402.6 722.2 L420 720.3 L424.8 719.2 L428.7 717.9 L435.1 715 L443.1 710.1 L451.1 703.2 L455.8 700.1 L458.6 698.5 L461.3 697.3 L464.2 696.9 L466.8 697.4 L469.4 698.6 L474.9 701.8 L477.8 703 L486.7 705.2 L496.3 706.7 L507.7 708 L545 711.2 L569.3 714.9 L574.8 715.3 L579.4 715 L582.5 714.2 L585.1 713.1 L587.4 711.6 L589.9 709.7 L592.3 707.4 L599.7 697.9 L602.2 694.9 L604.8 692.5 L609.4 689.7 L616.3 686.8 L623.5 683.1 L625.8 681.3 L627.2 679.6 L629.8 675.5 L633.3 667.8 L634.8 663.3 L636.2 658.1 L638.5 646.8 L642.1 627.6 L646.9 596.9 L651.6 574.4 L654.2 565.4 L655.8 561.5 L657.4 558.6 L659 556 L662.7 551.5 L666.7 547.5 L671.1 543.7 L673.3 542.5 L675.2 542 L677.4 542.6 L679.4 544.2 L681.2 546.5 L682.5 548.9 L684.6 555.4 L688.5 574.3 L693.4 607 L694.7 613.9 L697.5 625.5 L699.5 632 L702.1 637.5 L705.1 641.9 L706.7 643.8 L708.7 645.3 L710.8 646.6 L712.7 648.3 L713.9 650.4 L715.7 655.8 L717.2 661.8 L719.8 676.9 L721.3 683.1 L724.3 692.7 L726.9 698.4 L731.1 705.2 L734.4 708.9 L736.1 710.4 L738.9 712.2 L741.8 713.4 L745.3 714.1 L748.5 714.3 L764.3 712.4 L768.3 712.3 L772.3 712.8 L784.6 715.8 L788.3 716.2 L791.4 715.9 L794.1 714.4 L798.3 709.8 L800.6 707.6 L805 704.4 L807.3 702.9 L809.6 701.7 L811.7 701.2 L814.2 701.6 L816.6 702.7 L821.1 705.3 L825.4 708.3 L828.2 709.5 L832.9 710.5 L838.6 710.9 L858.5 711.5 L864.5 712.1 L869.3 712.9 L887.2 716.9 L892.1 717.7 L903.3 719 L915.5 719.7 L933.6 720.4 L1010.4 721.5 L1130.6 721.8 L1756 720" stroke="#000000" clip-path="url(#cb)"/>
<path d="M265 721.5 L314.9 721.1 L425.7 719.1 L475.6 718.7 L514.6 719.7 L537.4 722.5 L540.9 723.9 L543 725.6 L546.4 729.6 L551.6 739.6 L557.9 750.7 L559.6 753.4 L561.3 755.2 L562.9 756 L564.7 755.2 L566.5 753.2 L571.3 746.1 L576.4 737.3 L582.7 728.6 L584.6 726.5 L587 724.7 L589.9 723.2 L598.9 721.3 L611.3 720.7 L625.6 721.2 L678.7 724.9 L695.9 726.9 L701.2 727.9 L703.8 728.8 L706.4 730 L708.9 731.5 L713.6 735.1 L717.5 739 L723.4 748 L729.5 755.4 L731.9 757.5 L734.2 758.3 L736.5 757.4 L738.9 755.3 L749.1 743.5 L752.7 739.9 L755.5 737.8 L758.2 737.1 L760.2 738.5 L762.1 741.1 L763.7 744.5 L764.9 748 L765.8 752.3 L769.4 781.2 L771.5 805.7 L773 840 L783 1040 L790 1217 L797.5 1040 L803.3 865.7 L805.2 820.8 L807 790.6 L807.9 770 L808.9 758.1 L809.8 753.7 L810.9 750.2 L812.2 747.5 L813.5 746.4 L814.3 747.3 L815.1 749.5 L818.1 763 L822.6 778.6 L826.2 788.4 L827.6 791.1 L829.2 792.4 L831.3 791.5 L833.5 789 L835.6 786 L838 781.2 L841.2 772.2 L842.5 767.9 L846.1 752.3 L847.8 747.8 L850 744.5 L852 743 L854.3 742.1 L861.9 740.7 L864.5 739.8 L867.6 738.2 L877.1 732.1 L880.4 730.2 L883.8 728.7 L887.2 727.6 L893.7 726.1 L906 724.6 L917.9 723.8 L932.5 723.3 L948.9 723 L1000 723.2 L1016.3 723.7 L1066 726.4 L1081.6 727 L1096 727 L1105.2 726.6 L1137.8 723.2 L1150 722.5 L1213.1 721.1 L1303.5 720.7 L1756 722" stroke="#000000" clip-path="url(#cb)"/>
<path d="M265 1323 L278.6 1322.3 L307.9 1322.1 L321.5 1321.3 L332.9 1319.4 L340.9 1315.6 L343.7 1312.1 L345.3 1307.8 L346.2 1303 L347.3 1294.1 L348.3 1291 L350.4 1288.2 L352.6 1286 L356.5 1288.9 L358.2 1291 L359.3 1294.2 L360.9 1308 L362.1 1312.3 L364.3 1315.6 L368.1 1318.1 L372.6 1319.5 L378 1320.2 L400 1321 L437.2 1322.8 L491.7 1324.7 L554.2 1325.5 L615 1324.1 L664.6 1319.5 L693.6 1310.5 L697.5 1306.6 L699.7 1302.1 L700.8 1297.3 L701.8 1287.5 L702.8 1282.8 L707.4 1263.8 L708.7 1259.9 L710.2 1257 L712.8 1254.2 L715.7 1253.3 L717.4 1253.9 L719.3 1255.1 L721.3 1257 L723.3 1259.2 L726.8 1264.4 L728.9 1270 L730.6 1277.6 L733.3 1293.5 L734.6 1299.1 L736 1301.3 L737.2 1300.5 L738.4 1298.1 L740.8 1290.3 L742.9 1280.4 L744.6 1266.5 L745.8 1248.5 L747.7 1184.8 L748.6 1165.2 L751.7 1114.7 L752.8 1098.8 L754.2 1084.4 L755.8 1072 L756.9 1066 L759.3 1055.9 L763 1042 L767.6 1071.2 L770.5 1091.2 L771.7 1102 L773 1116.2 L774 1131.3 L780 1239.8 L782 1268.3 L783.8 1287.4 L784.4 1300.5 L785.1 1306.2 L786.5 1311.1 L788.9 1314.9 L791.7 1317.2 L795.2 1318.8 L799.1 1319.8 L803.3 1320.4 L807.6 1320.6 L812 1320.7 L817.8 1320.1 L824.2 1318.6 L837.4 1314.5 L843.7 1312.8 L849.4 1312 L853.1 1312.1 L856.4 1312.5 L866.1 1314.5 L869.6 1314.9 L874 1314.9 L893.2 1313.5 L898.4 1313.5 L904.8 1313.9 L911.2 1314.6 L932.9 1317.2 L941.6 1317.8 L962.1 1318.6 L988.4 1319.4 L1016.8 1319.8 L1043.9 1319.8 L1066.2 1319.3 L1080 1318 L1083.1 1317.3 L1085.2 1316.4 L1087.1 1315 L1088.7 1313.3 L1090.2 1311 L1094.5 1303.1 L1101.7 1292.8 L1103.7 1290.9 L1105.9 1290 L1108 1290.2 L1110.2 1291.3 L1112.4 1292.9 L1121.7 1301.1 L1128.6 1308.8 L1131 1311.2 L1133.6 1313.2 L1137.9 1316 L1142.5 1318.1 L1150 1320 L1200.6 1324.1 L1287.5 1325.4 L1398.5 1325 L1644.9 1322.4 L1756 1322" stroke="#000000" clip-path="url(#cc)"/>
<path d="M265 1329.8 L277.9 1332 L284.2 1332.3 L286.9 1331.9 L297.6 1328.7 L301.5 1328 L318.7 1326.3 L343.7 1324.7 L372.4 1323.5 L400.8 1323.1 L424.9 1324.1 L440.8 1326.7 L443.8 1328.1 L446.2 1329.7 L451.2 1335.1 L453.1 1336.6 L458 1339.7 L463 1342.2 L465.5 1342.8 L467.9 1342.8 L470.3 1342.4 L477.8 1340.3 L506.2 1334.7 L511.1 1333.2 L518.6 1330.1 L522 1329.2 L530.8 1328 L541.8 1327.2 L554.7 1326.7 L665 1324.6 L702.9 1324.1 L740 1324 L772.7 1324.7 L797.6 1326.4 L813.4 1328 L820 1328.9 L825.8 1330.2 L830.8 1332.2 L835 1335.1 L837.7 1338.3 L839.5 1341.9 L840.7 1346.1 L845.9 1371.5 L847.9 1383.9 L849.9 1397.4 L856.8 1451.2 L861 1488.8 L863.8 1510.7 L865.7 1522.8 L869.6 1544 L876.9 1507.3 L879.8 1487.6 L886.8 1424.3 L889.6 1391.9 L890.8 1384.8 L892.6 1378.3 L894.5 1373.8 L896.6 1369.6 L899 1365.8 L907 1355.2 L912.4 1348.9 L915.3 1345.9 L921.3 1340.4 L929.5 1333.9 L934.9 1330.6 L938 1329.2 L941.6 1327.9 L948.5 1326.4 L956 1325.5 L964.6 1325.2 L986.2 1325.1 L1078.6 1324.1 L1199.6 1323.5 L1339.9 1323.6 L1476.7 1324.9 L1587.2 1327.6 L1648.5 1332.3 L1655.9 1334 L1658.4 1334.9 L1662.4 1337.1 L1666.3 1340.6 L1668 1342.9 L1670.9 1348.2 L1673.8 1355.7 L1676.5 1366.1 L1682.6 1394.5 L1687.3 1417.9 L1696 1383 L1701 1357.6 L1702.4 1351.8 L1703.9 1346.6 L1707.2 1337.4 L1708.4 1334.8 L1709.9 1332.5 L1711.8 1330.7 L1714 1329.4 L1716.5 1328.5 L1719.3 1327.9 L1725 1327.4 L1727.7 1327.5 L1730.4 1327.9 L1741 1331.7 L1743.5 1332.3 L1748.6 1332.5 L1756 1332" stroke="#000000" clip-path="url(#cc)"/>
<path d="M265 1323 L363.7 1322 L384.3 1321.3 L400 1320 L404.6 1319.2 L414.8 1316 L417.8 1315.3 L421 1315 L424.1 1315.3 L427 1316.1 L436.2 1319.3 L440 1320 L448.2 1320.7 L458 1320.9 L468.8 1320.9 L490.5 1320.2 L513.2 1319 L525.3 1318 L531.1 1317.1 L536.9 1316 L542.2 1314.3 L557.4 1306.9 L562.1 1305.3 L566.4 1305 L569.5 1305.9 L572.2 1307.6 L580 1314.3 L583 1316 L587 1317.5 L595.6 1320 L600.2 1320.8 L605 1321.2 L610 1321 L617.3 1319.4 L625.4 1316.4 L650 1305.3 L656.7 1303.1 L660.3 1302.6 L669.6 1302.8 L672.4 1302.4 L675.2 1301.3 L678.6 1298.4 L681.8 1294.4 L690.6 1279.6 L693.6 1275.5 L698.7 1269.5 L703.7 1264.2 L706.1 1262.1 L708.4 1260.7 L712.1 1259.5 L715.7 1259.8 L717.5 1260.6 L721.4 1263.6 L725.1 1267.7 L726.8 1269.9 L728.6 1273.2 L733.2 1286 L734.6 1288.9 L736 1290 L737.5 1288.4 L738.8 1284.3 L741.4 1273.3 L743 1268.6 L745 1266 L747.3 1265.4 L749.8 1265.8 L752.4 1266.8 L755 1268 L757.3 1269.5 L766.4 1278.6 L768.8 1280.4 L776.1 1284.9 L778.6 1286 L780.9 1286.5 L783.2 1286.1 L786.5 1282.4 L789.4 1275.4 L794.7 1258.3 L797.5 1251.7 L800.5 1248.7 L802.8 1249.2 L805.2 1251.3 L812.5 1260.8 L814.9 1263.1 L817.2 1264.5 L824.3 1267.5 L826.4 1268.8 L830.8 1272.6 L832.9 1274.8 L835 1277.5 L837.2 1281.4 L843.8 1296.8 L846.4 1301 L849.4 1303.4 L852.3 1303.9 L855.6 1303.3 L859 1302.1 L866.2 1298.9 L883.5 1292.5 L886.7 1291.8 L889.7 1291.9 L892.3 1292.8 L894.6 1294.5 L899 1298.6 L907.6 1306.1 L910 1307.8 L912.8 1309.1 L916.6 1310 L921 1310.4 L936.1 1310.3 L941.6 1310.6 L949.4 1311.7 L974.8 1316.8 L986.2 1318.6 L1000 1320 L1076.5 1323.2 L1188.7 1324.3 L1324.5 1324.1 L1620.1 1322.2 L1756 1322" stroke="#008b00" clip-path="url(#cc)"/>
<path d="M265 1323.5 L523 1325.1 L571.3 1326.2 L600 1328 L603.5 1328.7 L607.6 1330.2 L610.6 1330.8 L619 1331.6 L630.2 1332.1 L697.5 1332.6 L749.9 1332.3 L764.6 1332.9 L779.1 1334.8 L783.2 1335.1 L789.8 1335.2 L812.4 1334.4 L819.7 1334.4 L826.4 1335.1 L836 1336.7 L840.6 1337.8 L844.9 1339.2 L848.8 1341.1 L852.3 1343.7 L855.6 1347.6 L858.3 1352.4 L860.5 1357.9 L864.5 1369.7 L881.1 1412.8 L890.3 1389.2 L892.8 1383.5 L901 1368.5 L904 1363.6 L907 1359.4 L910 1356.4 L912.8 1355.2 L914.8 1355.5 L916.9 1356.6 L918.9 1358.4 L920.8 1360.8 L924.3 1366.7 L927.5 1376.2 L929.8 1389.2 L931.6 1404.5 L934.3 1437.5 L938.9 1483.8 L944.4 1546 L954.7 1435.7 L957.8 1398.4 L959.6 1380.6 L961.8 1364.9 L964.6 1352.3 L966.1 1347.2 L969.3 1338.4 L971.1 1334.8 L973.4 1331.8 L976.1 1329.3 L979.1 1327.6 L982.5 1326.7 L986.1 1326.2 L1000 1326 L1015.3 1326.4 L1080.5 1332.5 L1100 1333.6 L1113.9 1332.9 L1117.2 1332 L1119.5 1330.9 L1123.3 1328.4 L1126 1327.1 L1130 1326 L1181.8 1321.8 L1271.4 1320.4 L1386.3 1320.8 L1641.2 1323.6 L1756 1324" stroke="#008b00" clip-path="url(#cc)"/>
<path d="M265 1323 L319.8 1322.3 L331.2 1321.5 L340 1320 L343.3 1318.6 L350.3 1313.7 L352.6 1313.2 L354.9 1313.8 L361.6 1318.7 L365 1320 L377.2 1321.6 L394.7 1322.1 L415 1321.8 L435.9 1320.9 L455 1319.6 L470 1318 L476.2 1317.1 L486.7 1314.9 L491.3 1313.6 L500 1310.5 L506.5 1307.3 L515.4 1301.9 L518.4 1300.4 L521.5 1299.2 L530.9 1296.6 L533.9 1295.5 L536.9 1293.9 L540.2 1291.4 L543.3 1288.4 L552.4 1278.3 L562 1269.2 L564.1 1267.5 L566.2 1266.5 L568.2 1266.2 L570.2 1267 L572.1 1268.7 L573.9 1271.1 L581.4 1282.1 L587.6 1291.8 L589.8 1294.9 L592.2 1297.6 L596.7 1302 L599.1 1303.9 L604.2 1307.3 L607 1308.7 L610.3 1309.9 L617.3 1311.6 L621.1 1312 L629.1 1312.3 L634.9 1312 L641.4 1311.3 L648.2 1310.3 L654.8 1308.8 L660.9 1307.1 L666 1305 L669.1 1303.3 L671.8 1301.6 L674.3 1299.6 L676.5 1297.4 L680.7 1292.1 L683.4 1287.2 L685.7 1281.4 L703.1 1224.5 L706.1 1212 L710.9 1186.6 L712.1 1181.4 L716.7 1166.7 L721 1174.3 L723.8 1179.9 L725 1183.3 L726.7 1190.3 L728.1 1198.5 L734.8 1259.4 L739.7 1306.8 L744.4 1309.6 L747.1 1310.5 L749.4 1310.5 L757.6 1308.2 L760.4 1307.7 L763 1307.7 L765.4 1308.4 L767.8 1309.5 L774.8 1313.8 L777.4 1314.9 L780.6 1315.8 L787.1 1316.9 L795 1317.7 L817.9 1319.1 L842.7 1320.3 L870.9 1321.2 L898.8 1321.2 L923 1320 L940 1317 L944.4 1315.1 L947.9 1312.8 L955.9 1305.3 L958.8 1303.4 L967.5 1299.3 L970.4 1298.4 L973.3 1297.8 L976.1 1297.6 L978.6 1297.9 L983.7 1299.4 L986.1 1300.6 L990.5 1303.4 L992.2 1305.2 L995.7 1312.1 L997.4 1314.2 L1000 1316 L1012.2 1318.8 L1030.5 1319.4 L1052.6 1318.4 L1099.2 1315.5 L1119.3 1315 L1132.8 1315.3 L1182.5 1317.5 L1200 1318 L1263.8 1318.9 L1446.8 1319.9 L1756 1321" stroke="#0000ff" clip-path="url(#cc)"/>
<path d="M265 1324 L362.4 1324 L393.4 1324.1 L420 1324.7 L440 1326 L445.5 1326.8 L457.5 1330 L461.1 1330.7 L465 1331 L468.8 1330.7 L484 1326.8 L490 1326 L545.1 1322.9 L637.2 1320.1 L746.5 1318.3 L853.3 1318.2 L937.7 1320.5 L980 1326 L982.6 1327.7 L983.7 1329.6 L985.8 1336 L986.6 1340.8 L994.3 1418.6 L997.2 1454 L999.6 1490 L1002.3 1550 L1007.7 1640 L1013 1550 L1019.3 1472.1 L1024.6 1400.7 L1026.3 1361.8 L1027.1 1353.7 L1028.2 1347.1 L1029 1343.7 L1030.9 1337.8 L1032.1 1335.8 L1033.6 1334.6 L1036.2 1334.8 L1045.2 1339.7 L1054.3 1345.5 L1057.4 1346.7 L1060.4 1347.1 L1063.1 1346.4 L1065.6 1344.8 L1073.4 1338.1 L1076.4 1336.4 L1084.4 1333.4 L1093.6 1331.1 L1098.9 1330.1 L1105 1329.3 L1121.6 1328.3 L1143.1 1328.2 L1212.9 1329.9 L1230 1330 L1236.6 1329.8 L1252.1 1328.8 L1262 1328.7 L1267.5 1329.2 L1289.3 1332.7 L1294 1333.1 L1296.9 1333.1 L1304.8 1332.2 L1307.1 1332.2 L1309.4 1332.5 L1312.2 1333.5 L1314.8 1334.8 L1317.3 1336.6 L1319.6 1338.9 L1321.6 1341.5 L1323.3 1344.7 L1329.9 1359.4 L1342 1382 L1352.9 1361.9 L1360.1 1347.2 L1362.1 1344 L1364.4 1341.5 L1366.7 1339.8 L1369.1 1338.6 L1371.7 1337.7 L1380.1 1335.7 L1396.5 1333.8 L1413.8 1330.8 L1422 1330 L1425 1330.1 L1433.1 1331.5 L1438.7 1331.9 L1442.1 1331.6 L1456.4 1328.6 L1460.5 1328 L1472 1327.3 L1492.1 1327.3 L1516.5 1328.1 L1599.6 1333.3 L1616.8 1333.9 L1626 1333.9 L1642.3 1333.6 L1664.3 1332.3 L1670.5 1331.7 L1693.6 1328.6 L1700 1328 L1717.7 1327.3 L1756 1327" stroke="#0000ff" clip-path="url(#cc)"/>
<path d="M265 1323 L359 1322.8 L380.6 1322.5 L400 1322 L422.8 1321 L442.9 1319.8 L460 1318 L469 1316.4 L484 1313.2 L497.3 1311.6 L503 1310.1 L518.4 1304 L531.1 1300.4 L534.1 1299.2 L536.9 1297.6 L539.7 1295.4 L542.4 1292.9 L544.9 1290 L549.5 1284 L553.4 1278.2 L557.7 1269.2 L559.2 1266.6 L560.9 1264.4 L565.4 1260.3 L567.7 1258.9 L570.1 1258.5 L572.3 1259.2 L574.6 1260.8 L576.8 1263 L581.1 1268.1 L583.1 1271 L585 1274.3 L592.2 1288.4 L597.6 1297.2 L601.3 1302.6 L605.3 1307.2 L609.2 1311.1 L611.5 1312.8 L614.3 1314.2 L618.7 1315.6 L623.8 1316.6 L629.5 1317.3 L641.6 1317.8 L653.7 1317.8 L666.7 1316.8 L673 1316.1 L684.4 1314.2 L687.9 1313.3 L697 1310 L699.9 1309.2 L702.8 1308.7 L706 1308.9 L712.2 1310.4 L715.1 1310.9 L717.6 1310.5 L719.8 1309.1 L721.7 1307 L723.3 1304.4 L727 1296.9 L729.1 1291.4 L731 1285.4 L736 1268.1 L736.7 1264.8 L737.9 1255.6 L738.7 1253.3 L740 1251.6 L742.3 1250.5 L745.3 1250.1 L748.5 1250.2 L751.7 1250.7 L754.4 1251.6 L756.8 1253.5 L760.7 1258.9 L763 1260.2 L765.2 1259.7 L767.6 1257.9 L772.8 1253.4 L775.2 1251.9 L777.4 1251.6 L779.8 1253.3 L781.9 1256.5 L783.8 1260.7 L790.5 1278.5 L794.2 1290.8 L795.7 1294.5 L797.6 1297.6 L799.6 1299.8 L801.8 1301.8 L804.1 1303.6 L809.3 1306.5 L815.1 1309 L818.3 1310.1 L825.2 1311.8 L828.7 1312.1 L832.1 1312 L836 1311.1 L839.9 1309.2 L847.8 1304.8 L851.6 1302.9 L855.2 1302 L858.2 1302.1 L866.6 1304.6 L869.6 1304.8 L873.2 1304 L876.9 1302.6 L884.8 1298.8 L888.8 1297.2 L892.6 1296.2 L896 1296 L899.5 1296.2 L909.6 1297.6 L912.8 1297.6 L915.8 1297.1 L924.2 1294.9 L927.2 1294.7 L930.4 1295 L933.8 1295.7 L937.2 1296.6 L944.1 1299.1 L947.3 1300.5 L950.3 1302.3 L958.7 1309.1 L961.6 1310.9 L964.6 1312 L967.8 1312.1 L971.2 1311.5 L981.5 1308.3 L984.7 1307.7 L989.9 1307.5 L1006.1 1308.6 L1051.4 1313.2 L1073.3 1314.8 L1090.4 1315.7 L1119.2 1316.2 L1191.8 1315.2 L1213.4 1315 L1230 1315.2 L1239.7 1315.7 L1274.1 1318.6 L1289.8 1319.6 L1300 1320 L1348.3 1321 L1416.6 1321.5 L1498.1 1321.7 L1756 1322" stroke="#ff0000" clip-path="url(#cc)"/>
<path d="M265 1323.5 L434.8 1323.6 L500 1324 L510.5 1324 L528.2 1323.4 L535.7 1323.5 L542.2 1324 L547.9 1325.3 L550.6 1326.4 L552.9 1327.8 L564.3 1337.3 L571.8 1344.5 L575.6 1347.8 L579.4 1350.1 L583 1351.1 L585.9 1350.4 L588.6 1348.4 L594 1343.1 L596.8 1341 L599.6 1340 L602.6 1340.6 L605.7 1342.4 L611.9 1347 L615 1348.7 L618 1349.2 L621.1 1348.1 L624.1 1345.7 L630.1 1339.4 L633.2 1336.5 L636.5 1334.5 L639.7 1333.5 L642.9 1333.1 L656.7 1332.6 L674.3 1330.1 L684.4 1328.9 L711.4 1327.1 L730.9 1326.4 L763.1 1326.4 L770.4 1326.8 L777.2 1327.7 L783.2 1329.3 L787.2 1331.1 L790.8 1333.3 L794.1 1335.8 L806.2 1346.3 L814.6 1354.6 L817.5 1356.7 L820.6 1358.1 L823.8 1358.5 L827.1 1358.2 L837.4 1355.7 L840.8 1355.2 L850.9 1354.5 L857.6 1354.7 L860.9 1355.2 L868 1357.1 L875 1360.1 L878.2 1361.8 L881.1 1363.8 L883.4 1365.8 L885.4 1368 L889 1372.8 L895 1382.1 L897.4 1386.3 L907 1404.2 L917 1383.3 L921.4 1372.5 L923 1366.2 L926.1 1345.3 L927.7 1340.4 L930 1337.9 L932.7 1338.3 L935.8 1340.7 L942.9 1347.8 L946.6 1350.8 L950.2 1352.3 L953.6 1352.1 L957.2 1351.1 L960.7 1349.4 L970.4 1343.7 L973 1341.8 L977.2 1337.9 L980 1336.4 L983.7 1335.3 L988.2 1334.5 L993.1 1334 L998 1333.8 L1002.7 1334 L1006.8 1334.6 L1009.5 1335.6 L1011.9 1337.2 L1016.4 1340.8 L1018.7 1342.1 L1021.1 1342.7 L1023.9 1342.3 L1026.8 1341.1 L1035.8 1335.8 L1038.9 1334.6 L1042.3 1333.8 L1049.2 1332.9 L1052.8 1332.7 L1056.4 1332.7 L1064 1333.5 L1072.4 1335.2 L1076.5 1336.5 L1080.3 1338.1 L1083.6 1340 L1086.2 1342.2 L1088.4 1344.8 L1094.1 1353.5 L1101.9 1363.6 L1103.9 1365.7 L1105.8 1367.2 L1107.7 1367.7 L1109.7 1367 L1111.6 1365.2 L1119.3 1354.3 L1129.7 1341.9 L1135.9 1336.6 L1138.1 1335.3 L1140.7 1334.6 L1143.9 1334.7 L1147.6 1335.5 L1159.9 1339.5 L1163.9 1340 L1167.4 1339.9 L1170.8 1339.4 L1181.4 1337.1 L1192 1335.5 L1234.6 1330.7 L1255.6 1328.7 L1274.1 1327.2 L1289.8 1326.4 L1300 1326 L1348.3 1325.1 L1416.6 1324.6 L1756 1324" stroke="#ff0000" clip-path="url(#cc)"/>
<path d="M265 1323 L276.3 1322.2 L300.8 1321.7 L312.1 1320.9 L321.7 1319.1 L328.6 1315.6 L331.3 1312.4 L333 1308.7 L334 1304.5 L335.1 1295.5 L337.2 1285.4 L340.4 1266.8 L341.7 1261.2 L343.4 1256.4 L344.8 1253.7 L348.1 1249.2 L353.2 1243 L357 1249.2 L359.5 1253.7 L360.6 1256.4 L362.1 1261.2 L363.4 1266.9 L366.7 1285.4 L370.4 1300.4 L372.8 1309.2 L374.1 1312.9 L375.4 1315.6 L376.8 1317.8 L379.1 1319.3 L390.4 1321.2 L409.9 1322 L434.2 1322 L459.7 1321.4 L482.8 1320.6 L515.6 1318.8 L519.8 1318.3 L523.8 1317.4 L527.7 1316 L531.2 1314.2 L534.6 1311.9 L540.8 1306.7 L547.9 1299.2 L553.7 1290.5 L561.7 1280.5 L564 1278.2 L566.2 1276.6 L568.2 1276 L570.2 1276.7 L572 1278.5 L573.8 1280.9 L577.4 1286.5 L579.5 1290.3 L585.2 1304.6 L587.6 1308.9 L590.4 1312.3 L593.1 1314.4 L596 1316 L599.1 1317.1 L602.5 1318.1 L610.6 1319.7 L620.8 1321.1 L633.8 1322.2 L648.1 1322.8 L662.3 1323 L674.9 1322.6 L684.4 1321.6 L690.5 1320.4 L693 1319.7 L695.2 1318.8 L697.2 1317.6 L699.2 1316 L701.2 1313.4 L702.8 1310.2 L706.8 1299.1 L713.9 1285.2 L715.8 1282.2 L717.7 1280 L719.4 1279.2 L721 1279.9 L722.5 1281.8 L724 1284.4 L728.4 1293.9 L734.6 1311.3 L736 1314.2 L737.9 1316.9 L739.7 1317.9 L741.2 1316.4 L742.8 1313.1 L746 1302.9 L748.9 1292.1 L750.2 1285.7 L753.1 1263.9 L754.4 1257.3 L756 1252 L757.5 1249 L759.2 1246.5 L764.5 1240 L771.4 1258.8 L774.6 1268.8 L776.2 1275.4 L781.7 1303.8 L785.3 1316.8 L786.6 1318.8 L789 1320.7 L816.8 1326.8 L868.3 1330.2 L931.7 1330.9 L995.6 1328.7 L1048.3 1323.4 L1078.2 1315 L1081.6 1312 L1083.6 1308.7 L1084.7 1305.2 L1086 1297.6 L1088.9 1287.9 L1093.9 1268.4 L1095.8 1262.6 L1097.9 1257.9 L1099.6 1255.4 L1101.3 1253.3 L1106.8 1248 L1114 1255.6 L1115.7 1257.9 L1119.4 1264.2 L1126.4 1279.3 L1128.2 1284 L1133.1 1299.6 L1135 1304.1 L1137.1 1307.9 L1140.6 1312.4 L1142.6 1314.1 L1144.9 1315.6 L1147.9 1316.8 L1155.7 1317.8 L1166.1 1317.4 L1202.3 1313.4 L1212.1 1313.2 L1217 1313.7 L1228.5 1316.3 L1233.4 1317.2 L1240 1318 L1288.8 1320.2 L1364.4 1321.3 L1457.8 1321.7 L1662.6 1321.6 L1756 1322" stroke="#ffa500" clip-path="url(#cc)"/>
<path d="M265 1324 L296.5 1323.7 L365.1 1322 L396.6 1321.7 L422.5 1322.5 L440 1325 L443.2 1326.2 L445.6 1327.5 L451 1331.8 L458 1335.5 L463 1337.4 L465.5 1338 L468.5 1338.2 L474.6 1337.5 L483.5 1335.9 L499.9 1332 L512.1 1328.8 L516.8 1327.8 L522 1327 L532.8 1326 L545.6 1325.5 L559.6 1325.2 L600 1325 L625.9 1324.4 L641 1324.6 L647.5 1325.3 L657.5 1327.1 L660.4 1328 L663.2 1329.2 L666 1330.8 L669.3 1334 L672.4 1338.4 L678.3 1347.9 L681.3 1351.4 L684.4 1352.9 L687.4 1352.3 L690.4 1350.3 L699.7 1340.8 L702.8 1338.2 L709 1333.7 L715.3 1329.6 L718.3 1328 L721.3 1327.1 L724.1 1326.7 L726.9 1326.8 L729.6 1327.1 L732.1 1327.8 L734.2 1328.9 L736 1330.7 L738.4 1335.6 L740 1337.9 L744.2 1342.4 L746.5 1344.6 L749 1346.1 L751.5 1346.6 L754.1 1345.4 L756.7 1342.8 L762.2 1335.3 L765.3 1331.8 L768.8 1329.3 L773.3 1327.6 L778.2 1326.5 L783.4 1325.8 L800 1325 L820.4 1323.4 L827.1 1323.4 L833.1 1324.3 L837.9 1326.4 L841 1329.3 L843.3 1333.1 L845 1337.6 L847.8 1347.4 L851.4 1358.3 L859 1384.2 L860.9 1389.8 L863.8 1397 L869.6 1409.9 L881.1 1381.1 L888.3 1359.2 L890.3 1354.1 L892.6 1349.5 L896.8 1342.8 L901.6 1336.9 L904.2 1334.4 L909.7 1330.4 L912.4 1329 L915.2 1327.8 L918.4 1326.8 L927.2 1325 L954.4 1322.6 L994.6 1321.8 L1043.5 1322 L1150.4 1323.6 L1200 1324 L1351.8 1323.4 L1401.8 1323.4 L1448.4 1323.7 L1490 1324.4 L1515.3 1325.2 L1562.9 1327.2 L1602.1 1329.5 L1626.3 1331.6 L1633.7 1332.5 L1640.5 1333.9 L1649.2 1336.4 L1654.2 1338.7 L1656.4 1340.2 L1658.4 1342 L1660.2 1344 L1663.1 1348.6 L1665.5 1354.6 L1666.4 1358.2 L1667.8 1366.2 L1669.9 1382 L1679 1475.4 L1681.2 1496.1 L1687.3 1546 L1692.2 1517.1 L1694.4 1501.8 L1696.7 1481.2 L1704.6 1398.5 L1708.1 1369.5 L1709.1 1362.8 L1710.3 1356.6 L1711.8 1351.3 L1714.1 1345.4 L1716.7 1340.4 L1718.2 1338.5 L1719.8 1337 L1722.3 1335.8 L1725 1335.3 L1727.7 1335.5 L1730.4 1336.7 L1732.9 1338.6 L1735.6 1340.2 L1738.1 1341 L1740.7 1341.6 L1743.5 1341.8 L1745.8 1341.7 L1756 1340" stroke="#ffa500" clip-path="url(#cc)"/>
</g>
<g stroke="#000" stroke-width="8" stroke-dasharray="33 19.3" fill="none" shape-rendering="crispEdges">
<path d="M1205 529.5 V18"/>
<path d="M1205 1041 V529.5"/>
<path d="M1205 1552.5 V1041"/>
</g>
<path d="M313.6 18 v18 M313.6 529.5 v-18 M394.7 18 v36 M394.7 529.5 v-36 M475.7 18 v18 M475.7 529.5 v-18 M556.7 18 v36 M556.7 529.5 v-36 M637.8 18 v18 M637.8 529.5 v-18 M718.8 18 v36 M718.8 529.5 v-36 M799.8 18 v18 M799.8 529.5 v-18 M880.9 18 v36 M880.9 529.5 v-36 M961.9 18 v18 M961.9 529.5 v-18 M1042.9 18 v36 M1042.9 529.5 v-36 M1124 18 v18 M1124 529.5 v-18 M1205 18 v36 M1205 529.5 v-36 M1286 18 v18 M1286 529.5 v-18 M1367.1 18 v36 M1367.1 529.5 v-36 M1448.1 18 v18 M1448.1 529.5 v-18 M1529.1 18 v36 M1529.1 529.5 v-36 M1610.2 18 v18 M1610.2 529.5 v-18 M1691.2 18 v36 M1691.2 529.5 v-36 M265 521.2 h18 M1756 521.2 h-18 M265 444 h36 M1756 444 h-36 M265 366.8 h18 M1756 366.8 h-18 M265 289.5 h36 M1756 289.5 h-36 M265 212.2 h18 M1756 212.2 h-18 M265 135 h36 M1756 135 h-36 M265 57.8 h18 M1756 57.8 h-18 M313.6 529.5 v18 M313.6 1041 v-18 M394.7 529.5 v36 M394.7 1041 v-36 M475.7 529.5 v18 M475.7 1041 v-18 M556.7 529.5 v36 M556.7 1041 v-36 M637.8 529.5 v18 M637.8 1041 v-18 M718.8 529.5 v36 M718.8 1041 v-36 M799.8 529.5 v18 M799.8 1041 v-18 M880.9 529.5 v36 M880.9 1041 v-36 M961.9 529.5 v18 M961.9 1041 v-18 M1042.9 529.5 v36 M1042.9 1041 v-36 M1124 529.5 v18 M1124 1041 v-18 M1205 529.5 v36 M1205 1041 v-36 M1286 529.5 v18 M1286 1041 v-18 M1367.1 529.5 v36 M1367.1 1041 v-36 M1448.1 529.5 v18 M1448.1 1041 v-18 M1529.1 529.5 v36 M1529.1 1041 v-36 M1610.2 529.5 v18 M1610.2 1041 v-18 M1691.2 529.5 v36 M1691.2 1041 v-36 M265 1040.8 h18 M1756 1040.8 h-18 M265 934.3 h36 M1756 934.3 h-36 M265 827.8 h18 M1756 827.8 h-18 M265 721.3 h36 M1756 721.3 h-36 M265 614.8 h18 M1756 614.8 h-18 M313.6 1041 v18 M313.6 1552.5 v-18 M394.7 1041 v36 M394.7 1552.5 v-36 M475.7 1041 v18 M475.7 1552.5 v-18 M556.7 1041 v36 M556.7 1552.5 v-36 M637.8 1041 v18 M637.8 1552.5 v-18 M718.8 1041 v36 M718.8 1552.5 v-36 M799.8 1041 v18 M799.8 1552.5 v-18 M880.9 1041 v36 M880.9 1552.5 v-36 M961.9 1041 v18 M961.9 1552.5 v-18 M1042.9 1041 v36 M1042.9 1552.5 v-36 M1124 1041 v18 M1124 1552.5 v-18 M1205 1041 v36 M1205 1552.5 v-36 M1286 1041 v18 M1286 1552.5 v-18 M1367.1 1041 v36 M1367.1 1552.5 v-36 M1448.1 1041 v18 M1448.1 1552.5 v-18 M1529.1 1041 v36 M1529.1 1552.5 v-36 M1610.2 1041 v18 M1610.2 1552.5 v-18 M1691.2 1041 v36 M1691.2 1552.5 v-36 M265 1499.6 h36 M1756 1499.6 h-36 M265 1411.4 h18 M1756 1411.4 h-18 M265 1323.2 h36 M1756 1323.2 h-36 M265 1235 h18 M1756 1235 h-18 M265 1146.8 h36 M1756 1146.8 h-36 M265 1058.6 h18 M1756 1058.6 h-18" stroke="#000" stroke-width="6" fill="none" shape-rendering="crispEdges"/>
<g fill="none" stroke="#000" stroke-width="8" stroke-linejoin="round" shape-rendering="crispEdges">
<rect x="265" y="18" width="1491" height="511.5"/>
<rect x="265" y="529.5" width="1491" height="511.5"/>
<rect x="265" y="1041" width="1491" height="511.5"/>
</g>
<g filter="url(#bin)">
<g font-size="74"><text x="250.5" y="161.5" text-anchor="end">2</text><text x="250.5" y="316" text-anchor="end">0</text><text x="250.5" y="470.5" text-anchor="end">-2</text><text x="250.5" y="748.3" text-anchor="end">0</text><text x="250.5" y="961.3" text-anchor="end">-2</text><text x="250.5" y="1173.8" text-anchor="end">2</text><text x="250.5" y="1350.2" text-anchor="end">0</text><text x="250.5" y="1526.6" text-anchor="end">-2</text></g>
<g font-size="74"><text x="394.7" y="1622.5" text-anchor="middle">-5</text><text x="556.7" y="1622.5" text-anchor="middle">-4</text><text x="718.8" y="1622.5" text-anchor="middle">-3</text><text x="880.9" y="1622.5" text-anchor="middle">-2</text><text x="1042.9" y="1622.5" text-anchor="middle">-1</text><text x="1205" y="1622.5" text-anchor="middle">0</text><text x="1367.1" y="1622.5" text-anchor="middle">1</text><text x="1529.1" y="1622.5" text-anchor="middle">2</text><text x="1691.2" y="1622.5" text-anchor="middle">3</text></g>
<g font-size="87">
<text x="356.7" y="146.5" textLength="102.7" lengthAdjust="spacingAndGlyphs">(a)</text>
<text x="356.7" y="640" textLength="102.7" lengthAdjust="spacingAndGlyphs">(b)</text>
<text x="356.7" y="1169.5" textLength="97.5" lengthAdjust="spacingAndGlyphs">(c)</text>
</g>
<text font-size="105" transform="translate(88.2 1256.5) rotate(-90)" x="-8.1" y="0" textLength="1018" lengthAdjust="spacingAndGlyphs">Partial DOS (states/eV)</text>
<text font-size="103" x="776.9" y="1713.6" textLength="216.1" lengthAdjust="spacingAndGlyphs">E - E</text>
<text font-size="73" x="994" y="1752.8">F</text>
<text font-size="103" x="1065" y="1713.6" textLength="182.7" lengthAdjust="spacingAndGlyphs">(eV)</text>
<g stroke-width="8" fill="none" shape-rendering="crispEdges">
<path d="M1865.4 268 H1936" stroke="#008b00"/>
<path d="M1865.4 359.5 H1936" stroke="#0000ff"/>
<path d="M1865.4 446.5 H1936" stroke="#ff0000"/>
<path d="M1865.4 557.5 H1936" stroke="#000000"/>
<path d="M1865.4 653 H1936" stroke="#ffa500"/>
</g>
<g font-size="61">
<text x="1970.4" y="272.7">d</text>
<text x="1970.4" y="369.8">d</text>
<text x="1970.4" y="458">d</text>
<text x="1970.4" y="564">d</text>
<text x="1970.4" y="660.5">d</text>
</g>
<g font-size="43.5">
<text x="2009.2" y="298">yz</text>
<text x="2006.9" y="394">z</text>
<text x="2008.9" y="480.7">xz</text>
<text x="2008.9" y="586.5">xy</text>
<text x="2008.9" y="683.8">x</text>
<text x="2067.1" y="683.8">-</text>
<text x="2094" y="683.8">y</text>
</g>
<g font-size="31">
<text x="2029.4" y="367.8">2</text>
<text x="2032" y="658.5">2</text>
<text x="2117.9" y="658.5">2</text>
</g>
</g>
</svg></body></html>
